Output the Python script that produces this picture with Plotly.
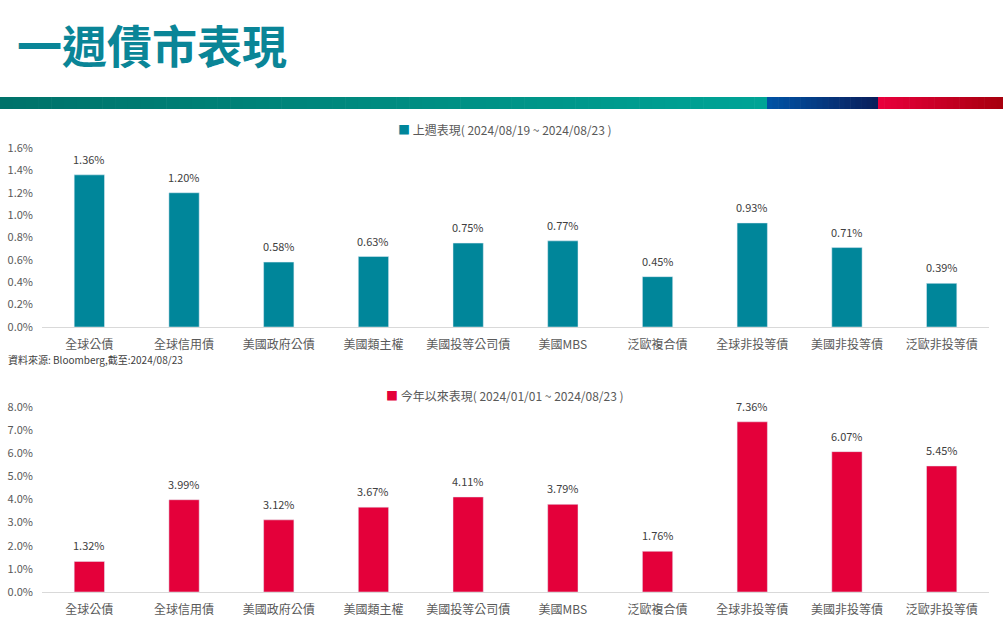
import plotly.graph_objects as go

# data
categories = ["全球公債", "全球信用債", "美國政府公債", "美國類主權", "美國投等公司債",
              "美國MBS", "泛歐複合債", "全球非投等債", "美國非投等債", "泛歐非投等債"]
week_ret = [1.36, 1.20, 0.58, 0.63, 0.75, 0.77, 0.45, 0.93, 0.71, 0.39]
ytd_ret = [1.32, 3.99, 3.12, 3.67, 4.11, 3.79, 1.76, 7.36, 6.07, 5.45]
week_label = "上週表現( 2024/08/19 ~ 2024/08/23 )"
ytd_label = "今年以來表現( 2024/01/01 ~ 2024/08/23 )"
source_note = "資料來源: Bloomberg,截至:2024/08/23"

W, H = 1003, 617
TEAL = "#00869a"
RED = "#e4003a"
GREY = "#595959"
FONT = "Noto Sans CJK TC, Microsoft JhengHei, sans-serif"


def py(pix):
    # pixel row -> paper y
    return 1 - pix / H


def px(pix):
    return pix / W


fig = go.Figure()

fig.add_trace(go.Bar(x=categories, y=week_ret, marker_color=TEAL,
                     xaxis="x", yaxis="y", showlegend=False, hoverinfo="x+y"))
fig.add_trace(go.Bar(x=categories, y=ytd_ret, marker_color=RED,
                     xaxis="x2", yaxis="y2", showlegend=False, hoverinfo="x+y"))

annotations = []
for c, v in zip(categories, week_ret):
    annotations.append(dict(x=c, y=v, xref="x", yref="y", text=f"{v:.2f}%",
                            showarrow=False, yanchor="bottom", yshift=6,
                            font=dict(size=11, color="#404040")))
for c, v in zip(categories, ytd_ret):
    annotations.append(dict(x=c, y=v, xref="x2", yref="y2", text=f"{v:.2f}%",
                            showarrow=False, yanchor="bottom", yshift=6,
                            font=dict(size=11, color="#404040")))

# series captions
annotations.append(dict(x=0.503, y=py(129), xref="paper", yref="paper",
                        yanchor="middle", xanchor="center",
                        text=f"<span style='color:{TEAL}'>■</span> {week_label}",
                        showarrow=False, font=dict(size=12, color=GREY)))
annotations.append(dict(x=0.503, y=py(395), xref="paper", yref="paper",
                        yanchor="middle", xanchor="center",
                        text=f"<span style='color:{RED}'>■</span> {ytd_label}",
                        showarrow=False, font=dict(size=12, color=GREY)))
annotations.append(dict(x=px(6), y=py(360), xref="paper", yref="paper",
                        xanchor="left", yanchor="middle", text=source_note,
                        showarrow=False, font=dict(size=10, color="#404040")))
annotations.append(dict(x=px(15), y=py(45), xref="paper", yref="paper",
                        xanchor="left", yanchor="middle", text="<b>一週債市表現</b>",
                        showarrow=False, font=dict(size=45, color="#0a8597")))

# gradient band under the title
shapes = []


def lerp(c1, c2, t):
    a = [int(c1[i:i + 2], 16) for i in (1, 3, 5)]
    b = [int(c2[i:i + 2], 16) for i in (1, 3, 5)]
    return "#" + "".join(f"{round(a[k] + (b[k] - a[k]) * t):02x}" for k in range(3))


def band(x0, x1, c1, c2, n):
    step = (x1 - x0) / n
    for i in range(n):
        shapes.append(dict(type="rect", xref="paper", yref="paper",
                           x0=px(x0 + i * step), x1=px(x0 + (i + 1) * step + 0.6),
                           y0=py(109), y1=py(97), line_width=0,
                           fillcolor=lerp(c1, c2, i / max(n - 1, 1))))


band(0, 767, "#00726a", "#00a496", 60)
band(767, 878, "#0052a4", "#0a1f5c", 20)
band(878, 1003, "#e8003c", "#a8000e", 20)

xaxis_common = dict(domain=[px(42), px(989)], showline=True, linecolor="#d9d9d9",
                    linewidth=1, ticks="", showgrid=False, automargin=False,
                    ticklabelstandoff=7, tickfont=dict(size=12, color=GREY))
yaxis_common = dict(showgrid=False, zeroline=False, ticks="", showline=False,
                    automargin=False, ticklabelstandoff=8,
                    tickfont=dict(size=11, color=GREY), ticksuffix="%")

fig.update_layout(
    width=W, height=H,
    margin=dict(l=0, r=0, t=0, b=0),
    paper_bgcolor="white", plot_bgcolor="white",
    font=dict(family=FONT, color=GREY),
    bargap=0.68,
    xaxis=dict(**xaxis_common, anchor="y"),
    yaxis=dict(**yaxis_common, domain=[py(327), py(148)], range=[0, 1.6],
               dtick=0.2, tickformat=".1f", anchor="x"),
    xaxis2=dict(**xaxis_common, anchor="y2"),
    yaxis2=dict(**yaxis_common, domain=[py(592), py(407)], range=[0, 8],
                dtick=1, tickformat=".1f", anchor="x2"),
    annotations=annotations,
    shapes=shapes,
)

fig.write_html("out.html", config={"displayModeBar": False},
               post_script="document.body.style.margin='0';")
